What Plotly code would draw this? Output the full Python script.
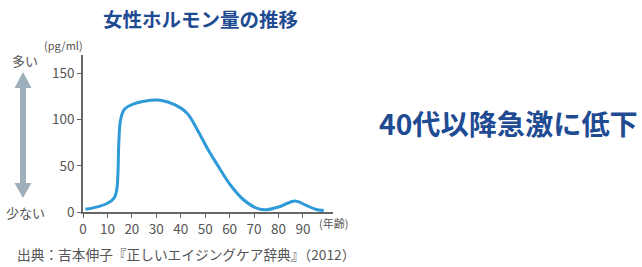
import plotly.graph_objects as go

# Data
ages = [1, 5, 10, 12.7, 13.8, 14.3, 14.7, 15.4, 16.9, 20.8, 27.7, 31.7, 37.7, 42.6, 46.6, 51.5, 55, 60.4, 65.8, 71.3, 75.3, 80.7, 86.7, 91.1, 95.1, 98.5]
hormone = [3, 5, 9.5, 15, 24, 42, 78, 100, 111, 117, 121, 121, 116, 107, 90, 66, 51, 29, 13, 4, 2.5, 6, 12, 7.5, 3, 1.5]
x_ticks = [0, 10, 20, 30, 40, 50, 60, 70, 80, 90]
y_ticks = [0, 50, 100, 150]

title_text = "女性ホルモン量の推移"
headline = "40代以降急激に低下"
source_text = "出典：吉本伸子『正しいエイジングケア辞典』（2012）"
unit_y = "(pg/ml)"
unit_x = "(年齢)"
more_text = "多い"
less_text = "少ない"

W, H = 642, 267
L, R, T, B = 83, 333, 55, 212  # plot area in pixels

def px(x):
    return (x - L) / (R - L)

def py(y):
    return (B - y) / (B - T)

JP = "Noto Sans CJK JP"
GRAY = "#555555"
BLUE = "#1f4b93"

fig = go.Figure()
fig.add_trace(go.Scatter(
    x=ages, y=hormone, mode="lines",
    line=dict(color="#2e9ad8", width=3, shape="spline", smoothing=1.0),
    hoverinfo="skip", showlegend=False,
))

fig.update_layout(
    width=W, height=H,
    margin=dict(l=L, r=W - R, t=T, b=H - B, pad=0),
    paper_bgcolor="white", plot_bgcolor="white",
    font=dict(family=JP, color=GRAY, size=13),
    xaxis=dict(range=[0, 102.3], tickvals=x_ticks, showgrid=False, zeroline=False,
               showline=True, linecolor="#666666", linewidth=1.5,
               ticks="outside", ticklen=4, tickcolor="#666666", tickwidth=1.2,
               tickfont=dict(family=JP, size=13.5, color=GRAY)),
    yaxis=dict(range=[0, 170], tickvals=y_ticks, showgrid=False, zeroline=False,
               showline=True, linecolor="#666666", linewidth=1.5,
               ticks="outside", ticklen=4, tickcolor="#666666", tickwidth=1.2,
               tickfont=dict(family=JP, size=13.5, color=GRAY)),
)

def ann(text, x, y, size, color=GRAY, bold=False, xanchor="center"):
    t = f"<b>{text}</b>" if bold else text
    fig.add_annotation(text=t, x=px(x), y=py(y), xref="paper", yref="paper",
                       showarrow=False, xanchor=xanchor, yanchor="middle",
                       font=dict(family=JP, size=size, color=color))

ann(title_text, 200, 18, 19.5, BLUE, bold=True)
ann(headline, 377, 122, 28.2, BLUE, bold=True, xanchor="left")
ann(source_text, 15, 254, 13.7, GRAY, xanchor="left")
ann(unit_y, 63, 45, 11, GRAY)
ann(unit_x, 333, 223, 11, GRAY)
ann(more_text, 25, 60, 13, GRAY)
ann(less_text, 25, 212, 13, GRAY)

# double-headed arrow
cx = 23
pts = [(cx, 72), (cx + 8.5, 88), (cx + 3, 88), (cx + 3, 183), (cx + 8.5, 183), (cx, 198),
       (cx - 8.5, 183), (cx - 3, 183), (cx - 3, 88), (cx - 8.5, 88)]
path = "M " + " L ".join(f"{px(a):.5f},{py(b):.5f}" for a, b in pts) + " Z"
fig.add_shape(type="path", path=path, xref="paper", yref="paper",
              fillcolor="#9eafbb", line=dict(width=0))

fig.write_html("out.html", config={"displayModeBar": False},
               post_script="document.body.style.margin='0';document.body.style.overflow='hidden';")
